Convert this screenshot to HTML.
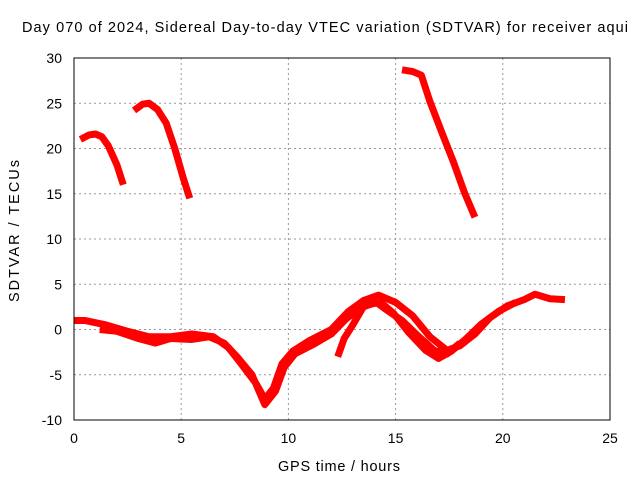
<!DOCTYPE html>
<html><head><style>
body{margin:0;background:#fff;font-family:"Liberation Sans",sans-serif;}
svg text{font-family:"Liberation Sans",sans-serif;font-size:14px;fill:#000;}
svg text.big{font-size:14.5px;}
</style></head><body>
<svg id="c" width="640" height="480">
<text class="big" x="325" y="32" text-anchor="middle" textLength="606" lengthAdjust="spacing">Day 070 of 2024, Sidereal Day-to-day VTEC variation (SDTVAR) for receiver aqui</text>
<text class="big" x="339" y="471" text-anchor="middle" textLength="122" lengthAdjust="spacing">GPS time / hours</text>
<text class="big" transform="translate(19,231) rotate(-90)" text-anchor="middle" textLength="142" lengthAdjust="spacing">SDTVAR / TECUs</text>
<g id="grid"></g><g id="series"></g>
<rect x="74" y="58" width="536" height="362" fill="none" stroke="#000"/>
</svg>
<script>
const xTicks=[0,5,10,15,20,25];
const yTicks=[-10,-5,0,5,10,15,20,25,30];
const segA=[[0.3,21],[0.7,21.5],[1.0,21.6],[1.3,21.3],[1.6,20.3],[2.0,18.2],[2.3,16]];
const segB=[[2.8,24.2],[3.2,24.9],[3.5,25],[3.9,24.3],[4.3,22.8],[4.7,20],[5.1,16.7],[5.4,14.5]];
const segC=[[15.3,28.7],[15.8,28.5],[16.2,28.1],[16.6,25.2],[17.2,21.5],[17.7,18.5],[18.2,15.2],[18.7,12.4]];
const low1=[[0,1],[0.5,1],[1.5,0.5],[2.5,-0.2],[3.5,-0.8],[4.5,-0.8],[5.5,-0.5],[6.5,-0.8],[7.2,-2],[7.8,-3.8],[8.5,-6],[8.9,-7.7],[9.3,-6.5],[9.7,-3.8],[10.2,-2.4],[11,-1.2],[12,0],[12.8,2],[13.5,3.2],[14.2,3.8],[15,3],[15.8,1.5],[16.6,-0.8],[17.4,-2.3],[18,-1.8],[18.7,-0.5],[19.4,1.3],[20.2,2.6],[21,3.3],[21.5,3.9],[22.2,3.4],[22.9,3.3]];
const low2=[[1.2,0],[2,-0.2],[3,-1],[3.8,-1.5],[4.5,-1],[5.5,-1.1],[6.3,-0.8],[7,-1.5],[7.6,-3],[8.3,-5],[8.9,-8.3],[9.4,-6.8],[9.8,-4.2],[10.3,-2.7],[11.2,-1.6],[12,-0.5],[12.7,1.2],[13.6,2.7],[14.3,3],[14.9,1.8],[15.6,-0.3],[16.4,-2.3],[17,-3.2],[17.6,-2.4],[18.3,-1],[19,0.6],[19.8,2],[20.6,3]];
const low3=[[12.3,-3],[12.6,-1],[13,0.5],[13.5,2.5],[14.1,3],[14.5,2.3],[15.3,1],[16,-0.6],[16.8,-2.3],[17.4,-2.7],[18,-1.5]];
const X=v=>74+v*536/25, Y=v=>420-(v+10)*362/40;
const g=document.getElementById('grid'),s=document.getElementById('series'),NS='http://www.w3.org/2000/svg';
xTicks.forEach(t=>{
 const l=document.createElementNS(NS,'line');
 
 
 l.setAttribute('x1',X(t));l.setAttribute('x2',X(t));l.setAttribute('y1',58);l.setAttribute('y2',420);
 l.setAttribute('stroke',t>0&&t<25?'#999':'none');l.setAttribute('stroke-dasharray','2,3');g.appendChild(l);
 const tx=document.createElementNS(NS,'text');
 
 
 tx.setAttribute('x',X(t));tx.setAttribute('y',443);tx.setAttribute('text-anchor','middle');tx.textContent=t;g.appendChild(tx);
});
yTicks.forEach(t=>{
 const l=document.createElementNS(NS,'line');
 
 
 l.setAttribute('x1',74);l.setAttribute('x2',610);l.setAttribute('y1',Y(t));l.setAttribute('y2',Y(t));
 l.setAttribute('stroke',t>-10&&t<30?'#999':'none');l.setAttribute('stroke-dasharray','2,3');g.appendChild(l);
 const tx=document.createElementNS(NS,'text');
 
 
 tx.setAttribute('x',62);tx.setAttribute('y',Y(t)+5);tx.setAttribute('text-anchor','end');tx.textContent=t;g.appendChild(tx);
});
[segA,segB,segC,low1,low2,low3].forEach(d=>{
 const p=document.createElementNS(NS,'polyline');
 
 
 p.setAttribute('points',d.map(q=>X(q[0])+','+Y(q[1])).join(' '));
 p.setAttribute('fill','none');p.setAttribute('stroke','#f00');p.setAttribute('stroke-width','7');p.setAttribute('stroke-linejoin','round');
 s.appendChild(p);
});
</script>
</body></html>
